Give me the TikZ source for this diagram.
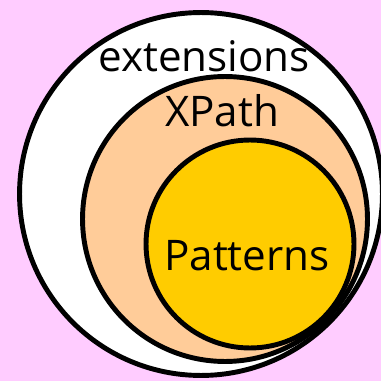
\documentclass[tikz,border=0pt]{standalone}
\usepackage{fontspec}
\setmainfont{Open Sans}
\usepackage{tikz}
\usetikzlibrary{positioning}
\definecolor{bgpink}{HTML}{FFCCFF}
\definecolor{peach}{HTML}{FFCC99}
\definecolor{gold}{HTML}{FFCC00}

\begin{document}
\begin{tikzpicture}[
    x=0.02cm, y=-0.02cm,
    ring/.style  ={circle, draw=black, line width=2.8pt, inner sep=0pt},
    lbl/.style   ={font=\fontsize{24}{28}\selectfont, inner sep=0pt, anchor=base},
  ]
  % pink canvas, 381 x 381 px
  \fill[bgpink] (0,0) rectangle (381,381);
  \useasboundingbox (0,0) rectangle (381,381);
  \clip (0,0) rectangle (381,381);
  % nested sets
  \node[ring, fill=white, minimum size=7.26cm] (ext) at (201,194) {};
  \node[ring, fill=peach, minimum size=5.70cm] (xp)  at (225,219) {};
  \node[ring, fill=gold,  minimum size=4.16cm] (pat) at (250,244) {};
  % labels
  \node[lbl] (ext-lbl) at (204,72)  {extensions};
  \node[lbl] (xp-lbl)  at (222,127) {XPath};
  \node[lbl] (pat-lbl) at (247,270) {Patterns};
\end{tikzpicture}
\end{document}
